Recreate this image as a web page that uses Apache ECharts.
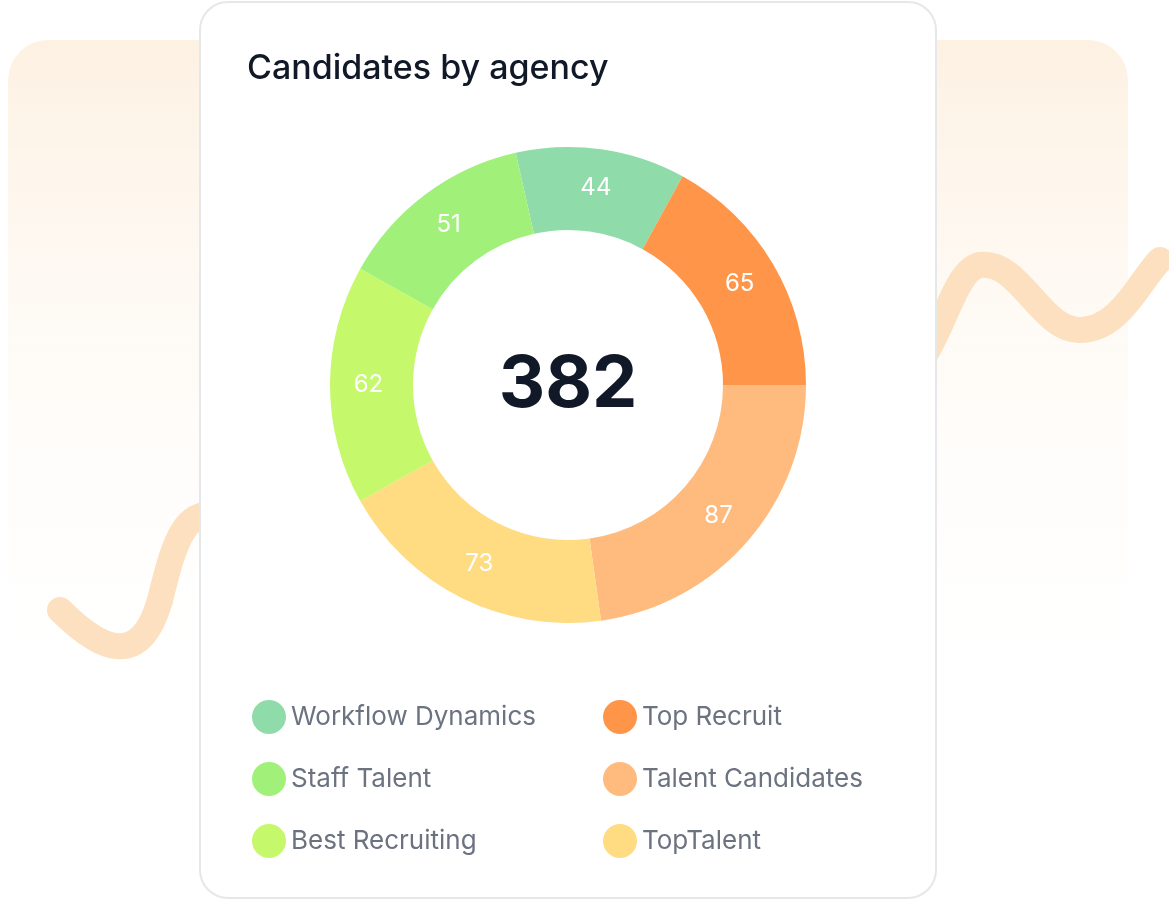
<!DOCTYPE html>
<html><head><meta charset="utf-8">
<script src="https://cdn.jsdelivr.net/npm/echarts@6/dist/echarts.min.js"></script>
<style>html,body{margin:0;background:#fff}#c{width:1169px;height:900px}</style>
</head><body><div id="c"></div>
<script>
const names = ['Workflow Dynamics','Top Recruit','Talent Candidates','TopTalent','Best Recruiting','Staff Talent'];
const values = [44,65,87,73,62,51];
const colors = ['#8fdcaa','#ff9548','#ffbb7e','#ffdb82','#c5f86b','#a0f07a'];
const total = values.reduce((a,b)=>a+b,0);
const chart = echarts.init(document.getElementById('c'));
const legendText = {fontSize:26,color:'#6b7280',fontFamily:'Inter'};
const wave = (x1,y1,cx1,cy1,cx2,cy2,x2,y2)=>({type:'bezierCurve',z:-9,shape:{x1,y1,cpx1:cx1,cpy1:cy1,cpx2:cx2,cpy2:cy2,x2,y2},style:{fill:null,stroke:'#fde0c0',lineWidth:26,lineCap:'round'}});
chart.setOption({
  animation:false,
  graphic:[
    {type:'rect',z:-10,shape:{x:8,y:40,width:1120,height:700,r:40},style:{fill:{type:'linear',x:0,y:0,x2:0,y2:1,colorStops:[{offset:0,color:'#fdf1e2'},{offset:1,color:'rgba(255,255,255,0)'}]}}},
    wave(60,610,100,650,140,670,160,600),
    wave(160,600,175,540,185,500,230,520),
    wave(900,380,940,360,950,270,980,265),
    wave(980,265,1020,260,1040,330,1080,330),
    wave(1080,330,1120,330,1140,280,1160,260),
    {type:'rect',z:-5,shape:{x:200,y:2,width:736,height:896,r:28},style:{fill:'#fff',stroke:'#e5e7eb',lineWidth:2}},
    {type:'text',left:247,top:52,style:{text:'Candidates by agency',fontSize:34,fontFamily:'Inter',fontWeight:500,fill:'#111827'}},
    {type:'text',x:568,y:385,style:{text:String(total),fontSize:72,fontWeight:700,fontFamily:'Inter',fill:'#111827',align:'center',verticalAlign:'middle'}}
  ],
  legend:[
    {left:247,top:695,orient:'vertical',itemGap:28,icon:'circle',itemWidth:34,itemHeight:34,textStyle:legendText,data:['Workflow Dynamics','Staff Talent','Best Recruiting']},
    {left:598,top:695,orient:'vertical',itemGap:28,icon:'circle',itemWidth:34,itemHeight:34,textStyle:legendText,data:['Top Recruit','Talent Candidates','TopTalent']}
  ],
  series:[{
    type:'pie',center:[568,385],radius:[155,238],startAngle:102.7,clockwise:true,
    label:{position:'inside',formatter:'{c}',color:'#fff',fontSize:24,fontFamily:'Inter'},
    labelLine:{show:false},
    itemStyle:{borderWidth:0},
    data:names.map((n,i)=>({name:n,value:values[i],itemStyle:{color:colors[i]}}))
  }]
});
</script></body></html>
